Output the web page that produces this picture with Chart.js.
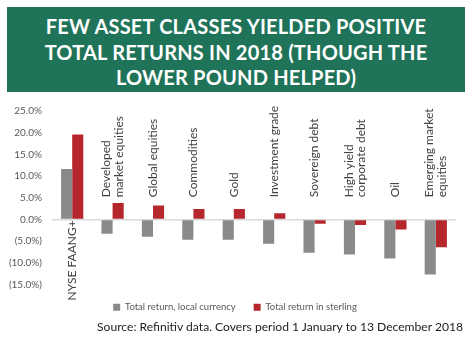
<!DOCTYPE html>
<html>
<head>
<meta charset="utf-8">
<script src="https://cdn.jsdelivr.net/npm/chart.js@4"></script>
<style>
  body { margin: 0; background: #fff; width: 475px; height: 345px; overflow: hidden; position: relative; font-family: Lato, sans-serif; }
  #banner { position: absolute; left: 7px; top: 7px; width: 458px; height: 85px; background: #1f7359;
    color: #fff; font-weight: bold; font-size: 20px; line-height: 25.5px; text-align: center;
    box-sizing: border-box; padding-top: 7px; letter-spacing: 0.2px; }
  #wrap { position: absolute; left: 0; top: 95px; width: 475px; height: 227px; }
  #source { position: absolute; left: 0; width: 463px; top: 319px; text-align: right; font-size: 12.1px; color: #222; }
</style>
</head>
<body>
<div id="banner">FEW ASSET CLASSES YIELDED POSITIVE<br>TOTAL RETURNS IN 2018 (THOUGH THE<br>LOWER POUND HELPED)</div>
<div id="wrap"><canvas id="chart"></canvas></div>
<div id="source">Source: Refinitiv data. Covers period 1 January to 13 December 2018</div>
<script>
// asset classes (multi-line labels are arrays)
const categories = [
  'NYSE FAANG+',
  ['Developed', 'market equities'],
  'Global equities',
  'Commodities',
  'Gold',
  'Investment grade',
  'Sovereign debt',
  ['High yield', 'corporate debt'],
  'Oil',
  ['Emerging market', 'equities']
];

// total return in local currency, %
const localReturns = [11.6, -3.3, -4.0, -4.7, -4.7, -5.6, -7.7, -8.1, -9.0, -12.7];
// total return in sterling, %
const sterlingReturns = [19.6, 3.8, 3.2, 2.4, 2.4, 1.4, -1.0, -1.3, -2.3, -6.4];

const yTicks = [25, 20, 15, 10, 5, 0, -5, -10, -15];

function fmtPct(v) {
  const s = Math.abs(v).toFixed(1) + '%';
  return v < 0 ? '(' + s + ')' : s;
}

// draws the category names as rotated text inside the plot
const catLabels = {
  id: 'catLabels',
  afterDatasetsDraw(chart) {
    const ctx = chart.ctx;
    const xs = chart.scales.x;
    const ys = chart.scales.y;
    ctx.save();
    ctx.font = '12px Lato, sans-serif';
    ctx.fillStyle = '#404040';
    ctx.textAlign = 'left';
    ctx.textBaseline = 'middle';
    categories.forEach((c, i) => {
      const lines = Array.isArray(c) ? c : [c];
      const cx = xs.getPixelForValue(i);
      // first bar label sits under the axis, others above
      const y0 = i === 0 ? ys.getPixelForValue(0) + 81 : ys.getPixelForValue(5) - 0.5;
      lines.forEach((ln, j) => {
        const x = cx + (j - (lines.length - 1) / 2) * 12.5;
        ctx.save();
        ctx.translate(x, y0);
        ctx.rotate(-Math.PI / 2);
        ctx.fillText(ln, 0, 0);
        ctx.restore();
      });
    });
    ctx.restore();
  }
};

// nudge the legend a bit right so it centres like the original
const legendShift = {
  id: 'legendShift',
  afterLayout(chart) {
    if (chart.legend) {
      chart.legend.left += 7;
      chart.legend.right += 7;
    }
  }
};

new Chart(document.getElementById('chart').getContext('2d'), {
  type: 'bar',
  data: {
    labels: categories,
    datasets: [
      { label: 'Total return, local currency', data: localReturns, backgroundColor: '#8a8a8a',
        categoryPercentage: 0.55, barPercentage: 1.0 },
      { label: 'Total return in sterling', data: sterlingReturns, backgroundColor: '#b5272d',
        categoryPercentage: 0.55, barPercentage: 1.0 }
    ]
  },
  options: {
    responsive: true,
    maintainAspectRatio: false,
    animation: false,
    layout: { padding: { left: 0, right: 19, top: 9, bottom: 0 } },
    scales: {
      x: { display: false },
      y: {
        min: -15, max: 25,
        afterBuildTicks(scale) { scale.ticks = yTicks.map(v => ({ value: v })); },
        afterFit(scale) { scale.width = 52; },
        border: { display: false },
        grid: {
          drawTicks: false,
          color: c => c.tick && c.tick.value === 0 ? '#d9d9d9' : 'rgba(0,0,0,0)',
          lineWidth: 1.5
        },
        ticks: {
          padding: 10,
          color: '#595959',
          font: { family: 'Lato, sans-serif', size: 10 },
          callback: v => fmtPct(v)
        }
      }
    },
    plugins: {
      legend: {
        position: 'bottom',
        labels: {
          boxWidth: 7, boxHeight: 7, padding: 18,
          color: '#595959',
          font: { family: 'Lato, sans-serif', size: 9.5 }
        }
      },
      tooltip: { enabled: false }
    }
  },
  plugins: [catLabels, legendShift]
});
</script>
</body>
</html>
